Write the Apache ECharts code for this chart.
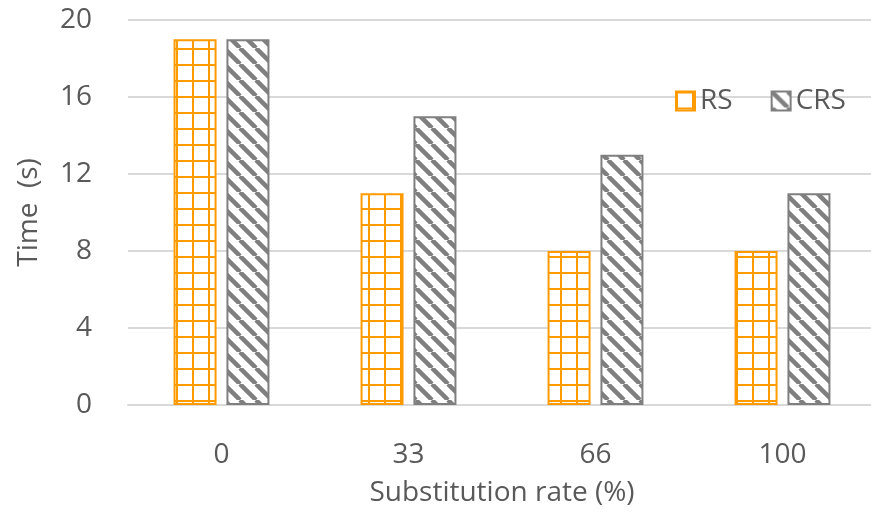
<!DOCTYPE html>
<html>
<head>
<meta charset="utf-8">
<script src="https://cdn.jsdelivr.net/npm/echarts@6/dist/echarts.min.js"></script>
<style>html,body{margin:0;padding:0;background:#fff;overflow:hidden}#chart{width:890px;height:515px}</style>
</head>
<body>
<div id="chart"></div>
<script>
const categories = ['0', '33', '66', '100'];
const rsValues = [19, 11, 8, 8];
const crsValues = [19, 15, 13, 11];
const yTicks = [0, 4, 8, 12, 16, 20];

const ORANGE = '#ff9a00';
const GREY = '#7f7f7f';
const TEXT = '#595959';
const FONT = '"Open Sans", sans-serif';
const FS = 28;

// Square grid fill for RS bars
function gridPattern() {
  const c = document.createElement('canvas');
  c.width = 16; c.height = 16;
  const g = c.getContext('2d');
  g.fillStyle = '#fff';
  g.fillRect(0, 0, 16, 16);
  g.fillStyle = ORANGE;
  g.fillRect(0, 0, 16, 2);
  g.fillRect(0, 0, 2, 16);
  return c;
}

// Downward diagonal stripes for CRS bars
function stripePattern() {
  const n = 16;
  const c = document.createElement('canvas');
  c.width = n; c.height = n;
  const g = c.getContext('2d');
  g.fillStyle = '#fff';
  g.fillRect(0, 0, n, n);
  g.strokeStyle = GREY;
  g.lineWidth = 4.5;
  for (let k = -1; k <= 1; k++) {
    g.beginPath();
    g.moveTo(k * n, 0);
    g.lineTo(k * n + n, n);
    g.stroke();
  }
  return c;
}

const chart = echarts.init(document.getElementById('chart'), null, { renderer: 'canvas' });
chart.setOption({
  animation: false,
  backgroundColor: '#fff',
  grid: { left: 128, top: 20, width: 748, bottom: 110, containLabel: false },
  legend: {
    left: 670, top: 82,
    icon: 'rect',
    itemWidth: 19, itemHeight: 19, itemGap: 38,
    textStyle: { color: TEXT, fontSize: FS, fontFamily: FONT },
    data: ['RS', 'CRS']
  },
  xAxis: {
    type: 'category',
    data: categories,
    name: 'Substitution rate (%)',
    nameLocation: 'middle',
    nameGap: 74,
    nameTextStyle: { color: TEXT, fontSize: FS, fontFamily: FONT },
    axisLine: { lineStyle: { color: '#d9d9d9', width: 2 } },
    axisTick: { show: false },
    axisLabel: { color: TEXT, fontSize: FS, fontFamily: FONT, margin: 36 }
  },
  yAxis: {
    type: 'value',
    min: yTicks[0], max: yTicks[yTicks.length - 1], interval: 4,
    name: 'Time  (s)',
    nameLocation: 'middle',
    nameGap: 85,
    nameTextStyle: { color: TEXT, fontSize: FS, fontFamily: FONT },
    axisLine: { show: false },
    axisTick: { show: false },
    axisLabel: { color: TEXT, fontSize: FS, fontFamily: FONT, margin: 36 },
    splitLine: { lineStyle: { color: '#d9d9d9', width: 2 } }
  },
  series: [
    {
      name: 'RS', type: 'bar', data: rsValues,
      barWidth: 43, barGap: '23%',
      itemStyle: { color: { image: gridPattern(), repeat: 'repeat' }, borderColor: ORANGE, borderWidth: 2 }
    },
    {
      name: 'CRS', type: 'bar', data: crsValues,
      barWidth: 43, barGap: '23%',
      itemStyle: { color: { image: stripePattern(), repeat: 'repeat' }, borderColor: GREY, borderWidth: 2 }
    }
  ]
});
</script>
</body>
</html>
